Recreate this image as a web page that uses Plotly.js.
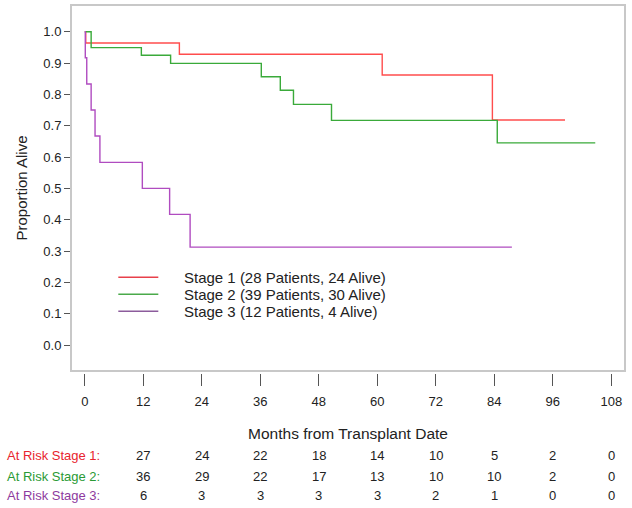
<!DOCTYPE html>
<html>
<head>
<meta charset="utf-8">
<script src="https://cdn.plot.ly/plotly-3.0.1.min.js"></script>
<style>html,body{margin:0;padding:0;background:#fff;}#chart{width:632px;height:508px;}</style>
</head>
<body>
<div id="chart"></div>
<script>
// Kaplan-Meier step data (months, proportion alive)
var stage1Months = [0, 0.2, 19.4, 61.0, 83.6, 98.5];
var stage1Surv   = [1.0, 0.964, 0.928, 0.862, 0.718, 0.718];
var stage2Months = [0, 1.3, 11.6, 17.6, 36.2, 40.1, 42.8, 50.6, 84.6, 104.7];
var stage2Surv   = [1.0, 0.949, 0.925, 0.899, 0.856, 0.813, 0.768, 0.717, 0.645, 0.645];
var stage3Months = [0, 0.1, 0.4, 1.3, 2.1, 3.1, 11.8, 17.4, 21.6, 87.6];
var stage3Surv   = [1.0, 0.917, 0.833, 0.750, 0.667, 0.583, 0.500, 0.417, 0.3125, 0.3125];

var seriesNames = ["Stage 1 (28 Patients, 24 Alive)", "Stage 2 (39 Patients, 30 Alive)", "Stage 3 (12 Patients, 4 Alive)"];
var xTicks = [0, 12, 24, 36, 48, 60, 72, 84, 96, 108];
var yTicks = [0.0, 0.1, 0.2, 0.3, 0.4, 0.5, 0.6, 0.7, 0.8, 0.9, 1.0];

var riskLabels = ["At Risk Stage 1:", "At Risk Stage 2:", "At Risk Stage 3:"];
var riskMonths = [12, 24, 36, 48, 60, 72, 84, 96, 108];
var riskStage1 = [27, 24, 22, 18, 14, 10, 5, 2, 0];
var riskStage2 = [36, 29, 22, 17, 13, 10, 10, 2, 0];
var riskStage3 = [6, 3, 3, 3, 3, 2, 1, 0, 0];

var lineColors = ["#ff4d4d", "#3aaa3a", "#b04cc0"];
var legendLineColors = ["#e8404a", "#4aaa4a", "#8c5c9c"];
var riskColors = ["#e8232e", "#2a9a35", "#8e3a9e"];
var FONT = "Liberation Sans, Arial, sans-serif";

var months = [stage1Months, stage2Months, stage3Months];
var survs = [stage1Surv, stage2Surv, stage3Surv];
var risks = [riskStage1, riskStage2, riskStage3];

var traces = [];
for (var i = 0; i < 3; i++) {
  traces.push({
    x: months[i], y: survs[i], type: "scatter", mode: "lines",
    line: {shape: "hv", color: lineColors[i], width: 1.4},
    name: seriesNames[i], showlegend: false
  });
}

var annotations = [];
var shapes = [{
  type: "rect", xref: "x domain", yref: "y domain", x0: 0, x1: 1, y0: 0, y1: 1,
  line: {color: "#c8c8c8", width: 2}, fillcolor: "rgba(0,0,0,0)", layer: "below"
}];

// legend (drawn as key lines + labels)
var legRowY = [0.2601, 0.2139, 0.1677];
for (var k = 0; k < 3; k++) {
  shapes.push({
    type: "line", xref: "paper", yref: "paper", x0: 0.0854, x1: 0.1576, y0: legRowY[k], y1: legRowY[k],
    line: {color: legendLineColors[k], width: 1.4}
  });
  annotations.push({
    xref: "paper", yref: "paper", x: 0.2016, y: legRowY[k], xanchor: "left", yanchor: "middle",
    text: seriesNames[k], showarrow: false, borderpad: 0,
    font: {family: FONT, size: 15, color: "#222"}
  });
}

// at-risk table
var rowY = [-0.2255, -0.2799, -0.3342];
for (var r = 0; r < 3; r++) {
  annotations.push({
    xref: "paper", yref: "paper", x: -0.119, y: rowY[r], xanchor: "left", yanchor: "middle",
    text: riskLabels[r], showarrow: false, font: {family: FONT, size: 13, color: riskColors[r]}
  });
  for (var c = 0; c < riskMonths.length; c++) {
    annotations.push({
      xref: "x", yref: "paper", x: riskMonths[c], y: rowY[r], xanchor: "center", yanchor: "middle",
      text: String(risks[r][c]), showarrow: false, font: {family: FONT, size: 13, color: "#222"}
    });
  }
}

var layout = {
  width: 632, height: 508,
  margin: {l: 71, r: 7, t: 5, b: 135},
  paper_bgcolor: "#fff", plot_bgcolor: "#fff",
  font: {family: FONT, color: "#222"},
  showlegend: false,
  xaxis: {
    anchor: "free", position: 0,
    range: [-2.83, 110.8], tickvals: xTicks, ticktext: xTicks.map(String),
    ticks: "outside", ticklen: 12, tickwidth: 1, tickcolor: "#555",
    ticklabelstandoff: 4,
    showline: false, showgrid: false, zeroline: false,
    tickfont: {family: FONT, size: 13, color: "#222"},
    title: {text: "Months from Transplant Date", font: {family: FONT, size: 15.5, color: "#222"}, standoff: 20}
  },
  yaxis: {
    domain: [0.0054, 1],
    range: [-0.083, 1.0852], tickvals: yTicks, tickformat: ".1f",
    ticks: "outside", ticklen: 6, tickwidth: 1, tickcolor: "#555",
    showline: false, showgrid: false, zeroline: false,
    tickfont: {family: FONT, size: 13, color: "#222"},
    title: {text: "Proportion Alive", font: {family: FONT, size: 15, color: "#222"}, standoff: 12}
  },
  shapes: shapes,
  annotations: annotations
};

Plotly.newPlot("chart", traces, layout, {displayModeBar: false, staticPlot: true});
</script>
</body>
</html>
